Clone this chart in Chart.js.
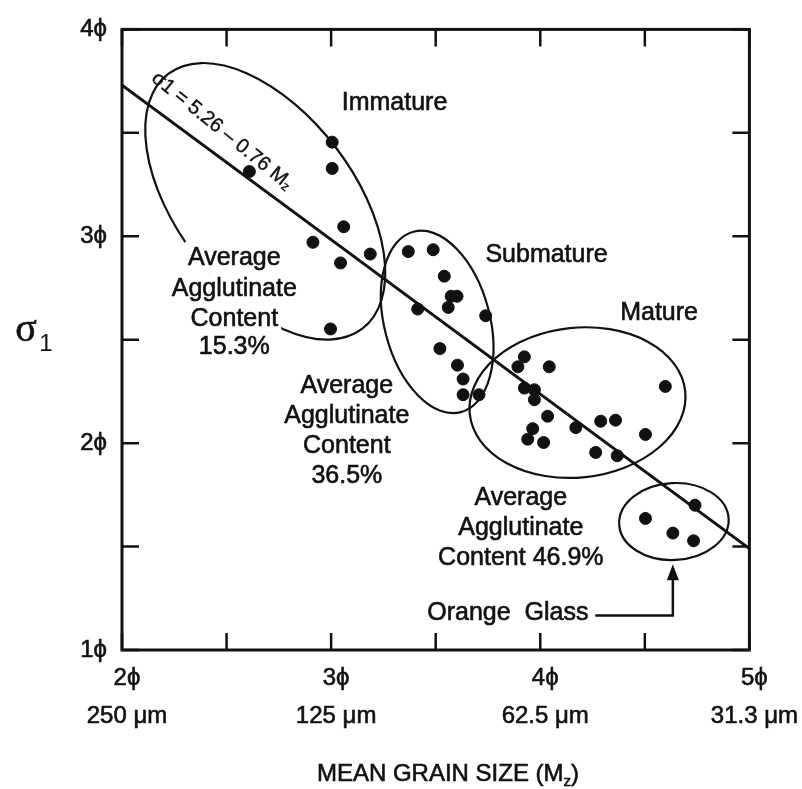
<!DOCTYPE html>
<html>
<head>
<meta charset="utf-8">
<script src="https://cdn.jsdelivr.net/npm/chart.js@4.4.1/dist/chart.umd.min.js"></script>
<style>
  body { margin: 0; background: #fff; }
  #wrap { width: 802px; height: 789px; }
</style>
</head>
<body>
<div id="wrap"><canvas id="grainChart" width="802" height="789"></canvas></div>
<script>
// Mean grain size (phi) vs sorting sigma1 (phi)
const grainSize = [
  3.005, 3.005, 2.609, 3.060, 2.913, 3.045, 3.187, 2.997,
  3.369, 3.488, 3.541, 3.574, 3.602, 3.560, 3.414, 3.739, 3.520, 3.604, 3.631, 3.631, 3.707,
  3.924, 3.893, 4.043, 3.924, 3.972, 3.972, 4.035, 4.170, 4.289, 4.360, 4.598, 4.503, 3.964, 3.940, 4.016, 4.265, 4.368,
  4.740, 4.503, 4.634, 4.733
];
const sorting = [
  3.455, 3.328, 3.313, 3.046, 2.971, 2.871, 2.914, 2.552,
  2.926, 2.935, 2.807, 2.710, 2.710, 2.656, 2.648, 2.616, 2.457, 2.377, 2.310, 2.234, 2.234,
  2.417, 2.369, 2.369, 2.266, 2.258, 2.210, 2.130, 2.075, 2.106, 2.111, 2.274, 2.042, 2.070, 2.019, 2.003, 1.955, 1.939,
  1.700, 1.636, 1.565, 1.528
];

// regression line sigma1 = 5.26 - 0.76 Mz, end points
const fitX = [2, 5];
const fitY = [3.73, 1.49];

const phiTicks = [2, 3, 4, 5];
const micronLabels = ['250 μm', '125 μm', '62.5 μm', '31.3 μm'];
const sortTicks = [1, 2, 3, 4];

const ink = '#111';
const sans = '"Liberation Sans", Arial, sans-serif';
const PHI = 'ϕ';

// outlines around each maturity group (data units, angle in degrees)
const outlines = [
  { cx: 2.685, cy: 3.169, a: 0.766, b: 0.429, rot: 52.7 },
  { cx: 3.507, cy: 2.586, a: 0.446, b: 0.255, rot: 75.3 },
  { cx: 4.178, cy: 2.196, a: 0.518, b: 0.362, rot: -6 },
  { cx: 4.639, cy: 1.621, a: 0.262, b: 0.186, rot: -3 }
];

const notes = [
  { x: 3.303, lines: ['Immature'], ys: [3.646] },
  { x: 4.030, lines: ['Submature'], ys: [2.911] },
  { x: 4.568, lines: ['Mature'], ys: [2.629] },
  { x: 2.537, lines: ['Average', 'Agglutinate', 'Content', '15.3%'], ys: [2.896, 2.743, 2.600, 2.466], mask: true },
  { x: 3.075, lines: ['Average', 'Agglutinate', 'Content', '36.5%'], ys: [2.275, 2.132, 1.984, 1.840] },
  { x: 3.907, lines: ['Average', 'Agglutinate', 'Content 46.9%'], ys: [1.735, 1.587, 1.444] },
  { x: 3.845, lines: ['Orange  Glass'], ys: [1.176] }
];

const arrowPath = [[4.263, 1.167], [4.634, 1.167], [4.634, 1.415]];

function isWhole(v) {
  return Math.abs(v - Math.round(v)) < 1e-6;
}

function drawSegments(ctx, segs, x, y) {
  // segs: [text, font, dy]
  let total = 0;
  segs.forEach(s => { ctx.font = s[1]; total += ctx.measureText(s[0]).width; });
  let cur = x - total / 2;
  segs.forEach(s => {
    ctx.font = s[1];
    ctx.fillText(s[0], cur, y + s[2]);
    ctx.strokeText(s[0], cur, y + s[2]);
    cur += ctx.measureText(s[0]).width;
  });
}

const overlayPlugin = {
  id: 'overlay',
  beforeDatasetsDraw(chart) {
    const ctx = chart.ctx;
    const xs = chart.scales.x, ys = chart.scales.y;
    const ux = xs.getPixelForValue(1) - xs.getPixelForValue(0);
    const uy = ys.getPixelForValue(0) - ys.getPixelForValue(1);
    ctx.save();
    ctx.strokeStyle = ink;
    ctx.lineWidth = 2.2;
    outlines.forEach(o => {
      ctx.beginPath();
      ctx.ellipse(xs.getPixelForValue(o.cx), ys.getPixelForValue(o.cy), o.a * ux, o.b * uy,
        o.rot * Math.PI / 180, 0, Math.PI * 2);
      ctx.stroke();
    });

    ctx.font = '25px ' + sans;
    ctx.textAlign = 'center';
    ctx.textBaseline = 'middle';
    notes.forEach(n => {
      const cx = xs.getPixelForValue(n.x);
      if (n.mask) {
        ctx.fillStyle = '#fff';
        n.lines.forEach((t, i) => {
          const w = ctx.measureText(t).width;
          const cy = ys.getPixelForValue(n.ys[i]);
          ctx.fillRect(cx - w / 2 - 3, cy - 16, w + 6, 32);
        });
      }
      ctx.fillStyle = ink;
      ctx.lineWidth = 0.6;
      n.lines.forEach((t, i) => {
        ctx.fillText(t, cx, ys.getPixelForValue(n.ys[i]));
        ctx.strokeText(t, cx, ys.getPixelForValue(n.ys[i]));
      });
    });

    // arrow to the orange glass group
    const pts = arrowPath.map(p => [xs.getPixelForValue(p[0]), ys.getPixelForValue(p[1])]);
    ctx.lineWidth = 2.5;
    ctx.beginPath();
    ctx.moveTo(pts[0][0], pts[0][1]);
    ctx.lineTo(pts[1][0], pts[1][1]);
    ctx.lineTo(pts[2][0], pts[2][1] + 10);
    ctx.stroke();
    const tip = pts[2];
    ctx.beginPath();
    ctx.moveTo(tip[0], tip[1]);
    ctx.lineTo(tip[0] - 6, tip[1] + 16);
    ctx.lineTo(tip[0] + 6, tip[1] + 16);
    ctx.closePath();
    ctx.fill();

    // equation along the fit line
    ctx.save();
    ctx.translate(xs.getPixelForValue(2.478), ys.getPixelForValue(3.51));
    ctx.rotate(39 * Math.PI / 180);
    ctx.textAlign = 'left';
    ctx.lineWidth = 0.4;
    drawSegments(ctx, [
      ['σ1 = 5.26 – 0.76 M', '20px ' + sans, 0],
      ['z', '13px ' + sans, 4]
    ], 0, 0);
    ctx.restore();
    ctx.restore();
  },
  afterDatasetsDraw(chart) {
    const ctx = chart.ctx;
    const a = chart.chartArea;
    const xs = chart.scales.x, ys = chart.scales.y;
    ctx.save();
    ctx.strokeStyle = ink;
    ctx.lineWidth = 3;
    ctx.strokeRect(a.left, a.top, a.right - a.left, a.bottom - a.top);

    // inward tick marks on all four sides
    const len = 17;
    ctx.lineWidth = 2.5;
    ctx.beginPath();
    xs.ticks.forEach(t => {
      const p = xs.getPixelForValue(t.value);
      ctx.moveTo(p, a.bottom); ctx.lineTo(p, a.bottom - len);
      ctx.moveTo(p, a.top); ctx.lineTo(p, a.top + len);
    });
    ys.ticks.forEach(t => {
      const p = ys.getPixelForValue(t.value);
      ctx.moveTo(a.left, p); ctx.lineTo(a.left + len, p);
      ctx.moveTo(a.right, p); ctx.lineTo(a.right - len, p);
    });
    ctx.stroke();

    // axis titles
    ctx.fillStyle = ink;
    ctx.lineWidth = 0.6;
    ctx.textBaseline = 'alphabetic';
    ctx.textAlign = 'left';
    drawSegments(ctx, [
      ['MEAN GRAIN SIZE (M', '24px ' + sans, 0],
      ['z', '15px ' + sans, 5],
      [')', '24px ' + sans, 0]
    ], 448, 781);

    ctx.font = '40px "Liberation Serif", serif';
    ctx.textAlign = 'center';
    ctx.fillText('σ', 26, 341);
    ctx.strokeText('σ', 26, 341);
    ctx.font = '24px ' + sans;
    ctx.fillText('1', 46, 351);
    ctx.restore();
  }
};

const chart = new Chart(document.getElementById('grainChart'), {
  type: 'scatter',
  data: {
    datasets: [
      {
        label: 'samples',
        data: grainSize.map((x, i) => ({ x: x, y: sorting[i] })),
        backgroundColor: ink,
        borderColor: ink,
        pointRadius: 6,
        pointHoverRadius: 6
      },
      {
        label: 'fit',
        data: fitX.map((x, i) => ({ x: x, y: fitY[i] })),
        showLine: true,
        borderColor: ink,
        borderWidth: 3,
        pointRadius: 0
      }
    ]
  },
  options: {
    responsive: false,
    animation: false,
    layout: { padding: { top: 22, right: 49, left: 0, bottom: 0 } },
    plugins: {
      legend: { display: false },
      tooltip: { enabled: false }
    },
    scales: {
      x: {
        type: 'linear',
        min: 2,
        max: 5,
        grid: { display: false, drawTicks: false },
        border: { display: false },
        afterFit: s => { s.height = 139; },
        ticks: {
          stepSize: 0.5,
          autoSkip: false,
          maxRotation: 0,
          minRotation: 0,
          labelOffset: 5,
          padding: 9,
          color: ink,
          textStrokeColor: ink,
          textStrokeWidth: 0.6,
          font: { family: sans, size: 24, lineHeight: 38 / 24 },
          callback: v => {
            if (!isWhole(v)) return '';
            const i = phiTicks.indexOf(Math.round(v));
            return [Math.round(v) + PHI, micronLabels[i]];
          }
        }
      },
      y: {
        type: 'linear',
        min: 1,
        max: 4,
        grid: { display: false, drawTicks: false },
        border: { display: false },
        afterFit: s => { s.width = 122; },
        ticks: {
          stepSize: 0.5,
          padding: 15,
          color: ink,
          textStrokeColor: ink,
          textStrokeWidth: 0.6,
          font: { family: sans, size: 24 },
          callback: v => (isWhole(v) && sortTicks.includes(Math.round(v)) ? Math.round(v) + PHI : '')
        }
      }
    }
  },
  plugins: [overlayPlugin]
});
</script>
</body>
</html>
